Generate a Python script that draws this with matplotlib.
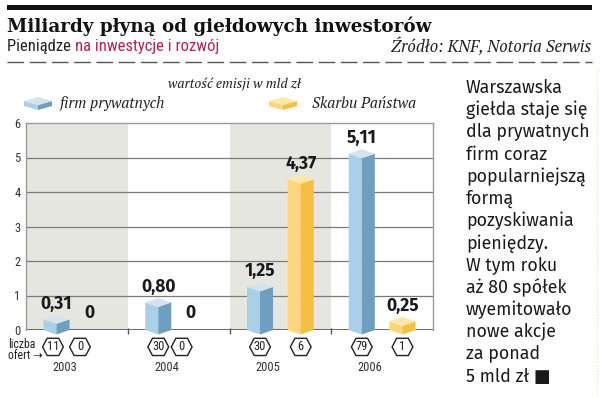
"""
Wartość emisji akcji na GPW w latach 2003-2006 (firmy prywatne vs Skarb Państwa).
Słupki rysowane jako pseudo-3D graniastosłupy.
"""

import matplotlib
matplotlib.use('Agg')
import matplotlib.pyplot as plt
from matplotlib.patches import Polygon

years = ['2003', '2004', '2005', '2006']
private_values = [0.31, 0.80, 1.25, 5.11]
state_values = [0.0, 0.0, 4.37, 0.25]
private_offers = [11, 30, 30, 79]
state_offers = [0, 0, 6, 1]
value_labels_private = ['0,31', '0,80', '1,25', '5,11']
value_labels_state = ['0', '0', '4,37', '0,25']

side_text = ['Warszawska', 'giełda staje się', 'dla prywatnych', 'firm coraz',
             'popularniejszą', 'formą', 'pozyskiwania', 'pieniędzy.',
             'W tym roku', 'aż 80 spółek', 'wyemitowało', 'nowe akcje',
             'za ponad', '5 mld zł ■']

BLUE = ('#a9d0e6', '#6e9fbf', '#d3e4ee')
YELLOW = ('#fdd67c', '#f5bf3f', '#fde8a8')
BAND = '#e6e6e1'

# font lists with safe fallbacks
SLAB = ['Roboto Slab', 'DejaVu Serif']
NARROW = ['Roboto Condensed', 'Liberation Sans Narrow', 'DejaVu Sans']
SERIF_IT = ['PT Serif', 'DejaVu Serif']
SANS = ['Fira Sans', 'Noto Sans', 'DejaVu Sans']


def draw_bar(ax, xc, h, colors, hw=0.128, d=0.13):
    """Bar as a box seen corner-on: light left face, dark right face, rhombus top."""
    left = [(xc - hw, 0), (xc - hw, h), (xc, h - d), (xc, -d)]
    right = [(xc, -d), (xc, h - d), (xc + hw, h), (xc + hw, 0)]
    top = [(xc - hw, h), (xc, h - d), (xc + hw, h), (xc, h + d)]
    for pts, col in [(left, colors[0]), (right, colors[1]), (top, colors[2])]:
        ax.add_patch(Polygon(pts, closed=True, facecolor=col, edgecolor='none',
                             zorder=4, clip_on=False))


def draw_hex(ax, xc, yc, text, hw=0.102, hh=0.25, tip=0.045):
    pts = [(xc - hw, yc), (xc - hw + tip, yc + hh), (xc + hw - tip, yc + hh),
           (xc + hw, yc), (xc + hw - tip, yc - hh), (xc - hw + tip, yc - hh)]
    ax.add_patch(Polygon(pts, closed=True, facecolor='white', edgecolor='#222222',
                         linewidth=1.0, clip_on=False, zorder=5))
    ax.text(xc, yc, text, ha='center', va='center', fontsize=9, family=NARROW,
            color='#222222', zorder=6)


fig = plt.figure(figsize=(6, 3.98), dpi=100)

# overlay in pixel coordinates for the page furniture
deco = fig.add_axes([0, 0, 1, 1])
deco.set_xlim(0, 600)
deco.set_ylim(398, 0)
deco.axis('off')
deco.patch.set_alpha(0)

deco.fill_between([7, 592], 5, 10, color='#111111', linewidth=0)
deco.text(7, 26, 'Miliardy płyną od giełdowych inwestorów', ha='left', va='center',
          fontsize=13.2, fontweight='heavy', family=SLAB, color='#111111')
t1 = deco.text(7, 47, 'Pieniądze ', ha='left', va='center', fontsize=12,
               family=NARROW, color='#222222')
fig.canvas.draw()
bb = t1.get_window_extent()
deco.annotate('na inwestycje i rozwój', xy=(bb.x1, 398 - 47), xycoords='figure pixels',
              ha='left', va='center', fontsize=12, family=NARROW, color='#b5244f')
deco.text(591, 47, 'Źródło: KNF, Notoria Serwis', ha='right', va='center',
          fontsize=12, style='italic', family=SERIF_IT, color='#222222')
deco.plot([7, 592], [62, 62], color='#555555', linewidth=1, dashes=(12, 4))

deco.text(234, 84, 'wartość emisji w mld zł', ha='center', va='center', fontsize=9.8,
          style='italic', family=SERIF_IT, color='#222222')


def legend_icon(x0, y0, colors, w=28):
    m = x0 + w / 2
    x1 = x0 + w
    top = [(x0, y0 + 4), (m, y0 + 8), (x1, y0 + 4), (m, y0)]
    left = [(x0, y0 + 4), (m, y0 + 8), (m, y0 + 13), (x0, y0 + 9)]
    right = [(m, y0 + 8), (x1, y0 + 4), (x1, y0 + 9), (m, y0 + 13)]
    for pts, col in [(left, colors[0]), (right, colors[1]), (top, colors[2])]:
        deco.add_patch(Polygon(pts, closed=True, facecolor=col, edgecolor='none'))


legend_icon(24, 97, BLUE)
deco.text(60, 103, 'firm prywatnych', ha='left', va='center', fontsize=10.9,
          style='italic', family=SERIF_IT, color='#222222')
legend_icon(269, 97, YELLOW)
deco.text(312, 103, 'Skarbu Państwa', ha='left', va='center', fontsize=10.9,
          style='italic', family=SERIF_IT, color='#222222')

for i, line in enumerate(side_text):
    deco.text(466, 88 + i * 22.2, line, ha='left', va='center', fontsize=12.8,
              family=SANS, color='#1a1a1a')
deco.plot([597, 597], [70, 395], color='#f3e3a0', linewidth=0.8, linestyle=':')

deco.text(8, 350, 'liczba\nofert ➝', ha='left', va='center', fontsize=8.5,
          family=NARROW, color='#222222', linespacing=0.85)

# main chart
ax = fig.add_axes([26 / 600, 68 / 398, 407 / 600, 207 / 398])
ax.set_facecolor('white')
ax.set_xlim(0, 4)
ax.set_ylim(0, 6)
for i in (0, 2):
    ax.axvspan(i, i + 1, color=BAND, linewidth=0, zorder=0)
for y in range(1, 6):
    ax.axhline(y, color='#7a7a7a', linewidth=0.9, zorder=1)
ax.axhline(0, color='#555555', linewidth=1.2, zorder=2)
ax.vlines([1, 2, 3], -0.12, 0.05, color='#555555', linewidth=1, clip_on=False, zorder=2)
for side in ('top', 'right', 'left'):
    ax.spines[side].set_color('#9a9a9a')
    ax.spines[side].set_linewidth(1)
ax.spines['bottom'].set_visible(False)
ax.set_xticks([])
ax.set_yticks(range(7))
ax.set_yticklabels([str(v) for v in range(7)], fontsize=9, color='#333333',
                   family=NARROW)
ax.tick_params(axis='y', length=0, pad=4)

p_off, s_off = 0.3, 0.7
for i, yr in enumerate(years):
    xp = i + p_off
    xs = i + s_off
    draw_bar(ax, xp, private_values[i], BLUE)
    ax.text(xp, private_values[i] + 0.2, value_labels_private[i], ha='center',
            va='bottom', fontsize=12.5, fontweight='bold', family=SANS,
            color='#1a1a1a', zorder=6)
    if state_values[i] > 0:
        draw_bar(ax, xs, state_values[i], YELLOW)
        ax.text(xs, state_values[i] + 0.2, value_labels_state[i], ha='center',
                va='bottom', fontsize=12.5, fontweight='bold', family=SANS,
                color='#1a1a1a', zorder=6)
        hx = xs
    else:
        ax.text(i + 0.62, 0.5, value_labels_state[i], ha='center', va='center',
                fontsize=12.5, fontweight='bold', family=SANS, color='#1a1a1a', zorder=6)
        hx = i + 0.53

    draw_hex(ax, xp - (0.035 if i == 0 else 0.0), -0.49, str(private_offers[i]))
    draw_hex(ax, hx, -0.49, str(state_offers[i]))
    ax.text(i + 0.38, -1.1, yr, ha='center', va='center', fontsize=9,
            family=NARROW, color='#333333')

fig.savefig('out.png', dpi=100)
